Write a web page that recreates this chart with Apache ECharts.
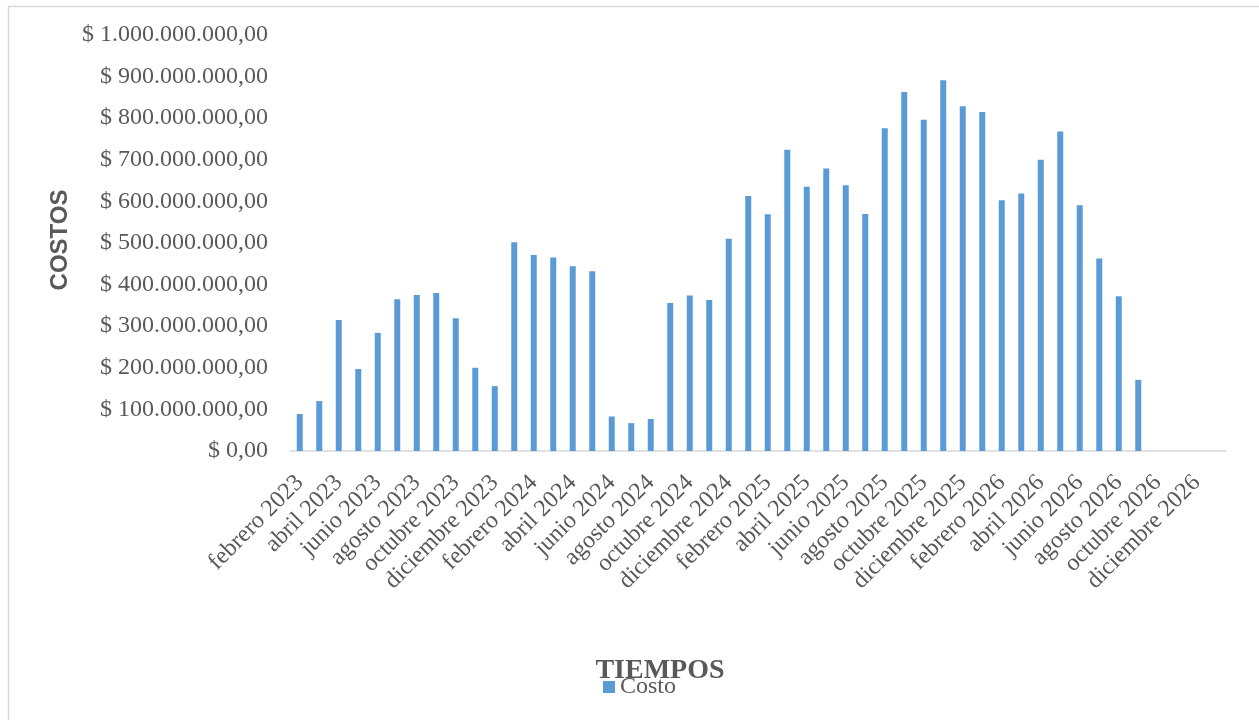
<!DOCTYPE html>
<html>
<head>
<meta charset="utf-8">
<title>Costos por mes</title>
<script src="https://cdn.jsdelivr.net/npm/echarts@6/dist/echarts.min.js"></script>
<style>
  html, body { margin: 0; padding: 0; background: #ffffff; }
  #chart { width: 1259px; height: 720px; }
</style>
</head>
<body>
<div id="chart"></div>
<script>
// Meses del eje horizontal (uno por barra, etiquetados de dos en dos)
const meses = [
  'febrero 2023', 'marzo 2023', 'abril 2023', 'mayo 2023', 'junio 2023', 'julio 2023',
  'agosto 2023', 'septiembre 2023', 'octubre 2023', 'noviembre 2023', 'diciembre 2023', 'enero 2024',
  'febrero 2024', 'marzo 2024', 'abril 2024', 'mayo 2024', 'junio 2024', 'julio 2024',
  'agosto 2024', 'septiembre 2024', 'octubre 2024', 'noviembre 2024', 'diciembre 2024', 'enero 2025',
  'febrero 2025', 'marzo 2025', 'abril 2025', 'mayo 2025', 'junio 2025', 'julio 2025',
  'agosto 2025', 'septiembre 2025', 'octubre 2025', 'noviembre 2025', 'diciembre 2025', 'enero 2026',
  'febrero 2026', 'marzo 2026', 'abril 2026', 'mayo 2026', 'junio 2026', 'julio 2026',
  'agosto 2026', 'septiembre 2026', 'octubre 2026', 'noviembre 2026', 'diciembre 2026', 'enero 2027'
];

// Costo mensual en pesos (los últimos meses aún sin registro)
const costo = [
  89000000, 120000000, 315000000, 197000000, 284000000, 365000000,
  375000000, 380000000, 319000000, 200000000, 156000000, 502000000,
  471000000, 465000000, 444000000, 432000000, 83000000, 67000000,
  77000000, 356000000, 374000000, 363000000, 510000000, 613000000,
  569000000, 724000000, 635000000, 679000000, 639000000, 570000000,
  776000000, 863000000, 796000000, 891000000, 829000000, 815000000,
  603000000, 619000000, 700000000, 768000000, 591000000, 463000000,
  372000000, 171000000, null, null, null, null
];

// Escala del eje vertical
const ejeY = { min: 0, max: 1000000000, paso: 100000000 };

const serif = '"Liberation Serif", "Times New Roman", serif';
const gris = '#595959';

function formatoPesos(v) {
  const entero = Math.round(v).toString().replace(/\B(?=(\d{3})+(?!\d))/g, '.');
  return '$ ' + entero + ',00';
}

const chart = echarts.init(document.getElementById('chart'), null, { renderer: 'canvas' });

chart.setOption({
  backgroundColor: '#ffffff',
  animation: false,
  grid: { left: 290, right: 33, top: 35, bottom: 269, containLabel: false },
  legend: {
    data: ['Costo'],
    left: 598,
    top: 670,
    icon: 'rect',
    itemWidth: 12,
    itemHeight: 12,
    itemGap: 10,
    textStyle: { fontFamily: serif, fontSize: 24, color: gris }
  },
  xAxis: {
    type: 'category',
    data: meses,
    boundaryGap: true,
    axisLine: { show: true, lineStyle: { color: '#D9D9D9', width: 1.5 } },
    axisTick: { show: false },
    splitLine: { show: false },
    axisLabel: {
      interval: 1,
      rotate: 45,
      margin: 28,
      fontFamily: serif,
      fontSize: 24,
      color: gris
    }
  },
  yAxis: {
    type: 'value',
    min: ejeY.min,
    max: ejeY.max,
    interval: ejeY.paso,
    axisLine: { show: false },
    axisTick: { show: false },
    splitLine: { show: false },
    axisLabel: {
      margin: 22,
      fontFamily: serif,
      fontSize: 24,
      color: gris,
      formatter: formatoPesos
    }
  },
  series: [{
    name: 'Costo',
    type: 'bar',
    data: costo,
    barWidth: 6,
    itemStyle: { color: '#5B9BD5' }
  }],
  graphic: [
    {
      type: 'rect',
      silent: true,
      shape: { x: 8.5, y: 6.5, width: 1400, height: 900 },
      style: { fill: 'none', stroke: '#D9D9D9', lineWidth: 1.5 },
      z: -10
    },
    {
      type: 'text',
      silent: true,
      x: 60,
      y: 240,
      rotation: Math.PI / 2,
      style: {
        text: 'COSTOS',
        font: 'bold 24px "Liberation Sans", Arial, sans-serif',
        fill: gris,
        textAlign: 'center',
        textVerticalAlign: 'middle'
      }
    },
    {
      type: 'text',
      silent: true,
      x: 660,
      y: 671,
      style: {
        text: 'TIEMPOS',
        font: 'bold 28px "Liberation Serif", "Times New Roman", serif',
        fill: gris,
        textAlign: 'center',
        textVerticalAlign: 'middle'
      }
    }
  ]
});
</script>
</body>
</html>
